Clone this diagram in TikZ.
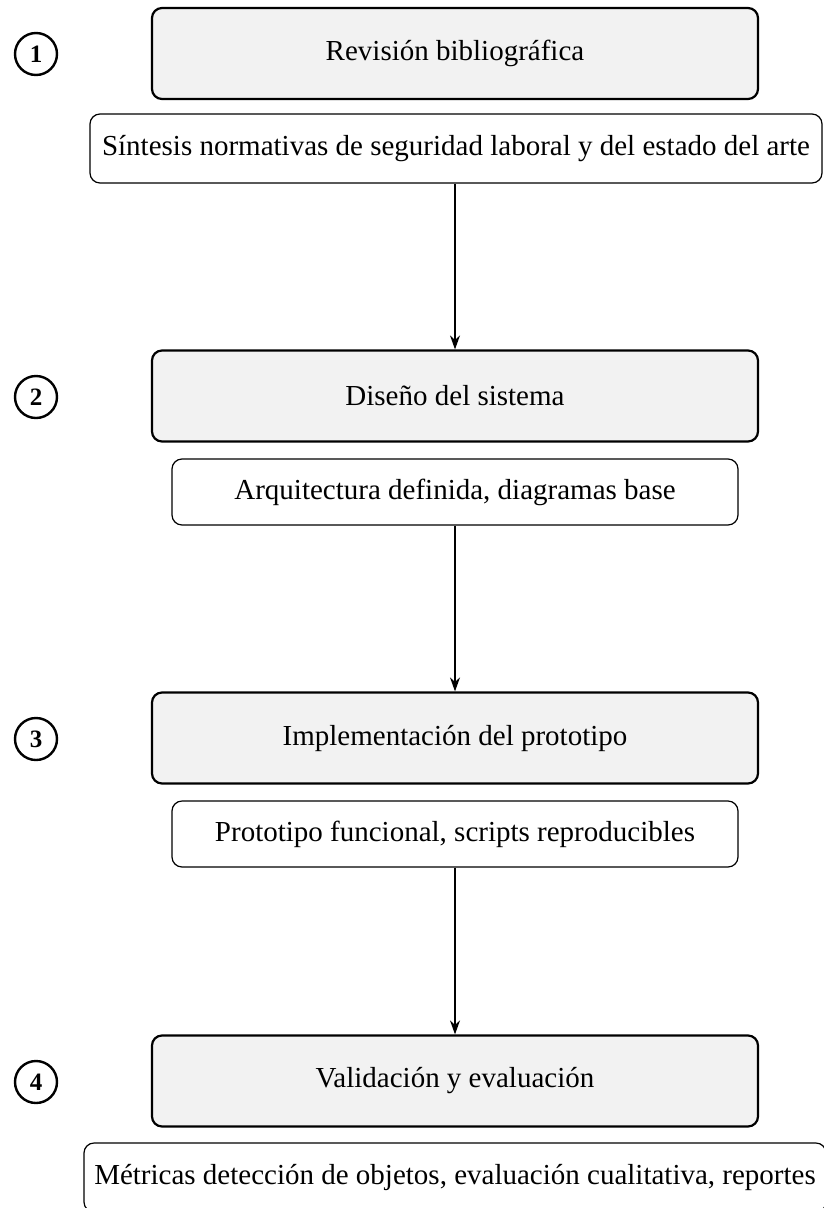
\documentclass[tikz,border=0pt]{standalone}
\usepackage{fontspec}
\setmainfont{Liberation Serif}
\usetikzlibrary{arrows.meta}
\begin{document}
\begin{tikzpicture}[x=1pt,y=-1pt,
  phase/.style={draw, line width=2.2pt, rounded corners=10pt, fill=black!5,
    minimum width=606pt, minimum height=91pt, inner sep=0pt,
    font=\fontsize{29}{34}\selectfont},
  outcome/.style={draw, line width=1.2pt, rounded corners=10pt, fill=white,
    minimum height=67pt, inner sep=0pt,
    font=\fontsize{29}{34}\selectfont},
  num/.style={draw, circle, line width=2.4pt, minimum size=42pt, inner sep=0pt,
    font=\fontsize{25}{30}\selectfont\bfseries},
  flow/.style={-{Stealth[length=14pt,width=10pt]}, line width=1.6pt}]
\useasboundingbox (0,0) rectangle (823,1208);
\node[phase] (p1) at (455,53.5) {Revisión bibliográfica};
\node[phase] (p2) at (455,396) {Diseño del sistema};
\node[phase] (p3) at (455,738) {Implementación del prototipo};
\node[phase] (p4) at (455,1081) {Validación y evaluación};
\node[outcome, minimum width=732pt, minimum height=69pt] (o1) at (456,148.5) {Síntesis normativas de seguridad laboral y del estado del arte};
\node[outcome, minimum width=566pt, minimum height=66pt] (o2) at (455,492) {Arquitectura definida, diagramas base};
\node[outcome, minimum width=566pt, minimum height=66pt] (o3) at (455,834) {Prototipo funcional, scripts reproducibles};
\node[outcome, minimum width=742pt, minimum height=69pt] (o4) at (455,1177.5) {Métricas detección de objetos, evaluación cualitativa, reportes};
\node[num] (n1) at (36,54) {1};
\node[num] (n2) at (36,397) {2};
\node[num] (n3) at (36,739) {3};
\node[num] (n4) at (36,1082) {4};
\draw[flow] (o1.south -| p2.north) -- (p2.north);
\draw[flow] (o2.south) -- (p3.north);
\draw[flow] (o3.south) -- (p4.north);
\end{tikzpicture}
\end{document}
